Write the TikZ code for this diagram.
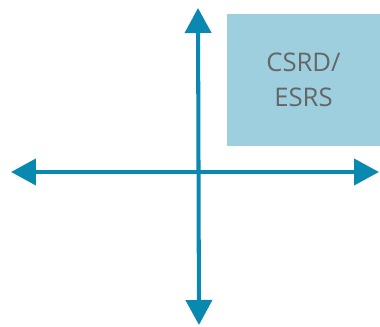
\documentclass[tikz,border=0pt]{standalone}
\usepackage{fontspec}
\setmainfont{Open Sans}
\usetikzlibrary{arrows.meta}
\definecolor{axisblue}{HTML}{0A89B0}
\definecolor{boxblue}{HTML}{9DCFDF}
\definecolor{textgray}{HTML}{666666}
\tikzset{
  axis/.style={axisblue,line width=2.3pt,{Triangle[length=0.5cm,width=0.52cm]}-{Triangle[length=0.5cm,width=0.52cm]}},
  normbox/.style={fill=boxblue,text=textgray,minimum width=3.06cm,minimum height=2.64cm,align=center,inner sep=0pt,
    font=\fontsize{14.6pt}{19.9pt}\selectfont}
}

\begin{document}
\begin{tikzpicture}[x=0.02cm,y=-0.02cm]
\useasboundingbox (0,0) rectangle (380,326);
\node[normbox] (csrd) at (303.5,80) {CSRD/\\ESRS};
\coordinate (north) at (198,8);
\coordinate (south) at (199,325);
\coordinate (west) at (11,172);
\coordinate (east) at (379,172);
\draw[axis] (south) -- (north);
\draw[axis] (west) -- (east);
\end{tikzpicture}
\end{document}
